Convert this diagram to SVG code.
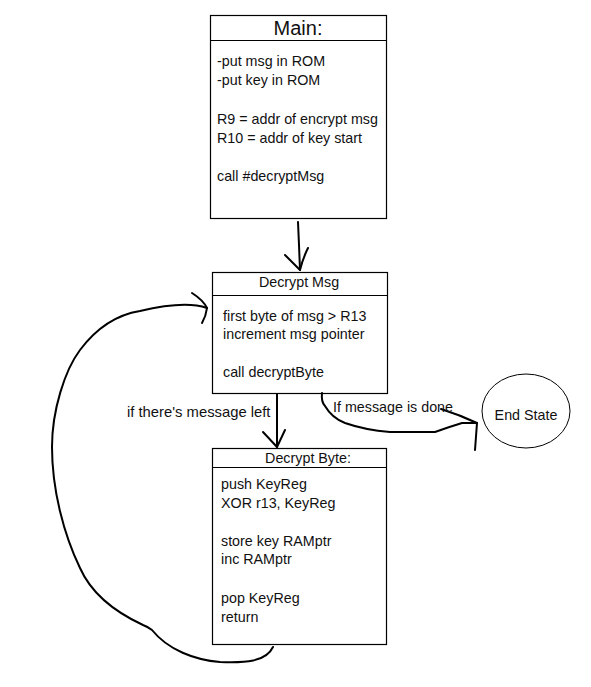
<svg xmlns="http://www.w3.org/2000/svg" width="591" height="687" viewBox="0 0 591 687">
<style>
.box{fill:#fff;stroke:#000;stroke-width:1.2}
.t{font-family:"Liberation Sans",Arial,sans-serif;font-size:14.3px;fill:#111}
.lb{font-size:14.8px}
.title{font-family:"Liberation Sans",Arial,sans-serif;font-size:20px;fill:#111}
.c{text-anchor:middle}
.ln{fill:none;stroke:#000;stroke-width:2;stroke-linecap:round;stroke-linejoin:round}
</style>
<rect width="591" height="687" fill="#fff"/>
<g id="main">
<rect class="box" x="210.5" y="15.5" width="176" height="203"/>
<line class="box" x1="210.5" y1="40.5" x2="386.5" y2="40.5"/>
<text class="title c" x="298" y="35">Main:</text>
<text class="t" x="217" y="66">-put msg in ROM</text>
<text class="t" x="217" y="85">-put key in ROM</text>
<text class="t" x="217" y="124">R9 = addr of encrypt msg</text>
<text class="t" x="217" y="143">R10 = addr of key start</text>
<text class="t" x="217" y="181">call #decryptMsg</text>
</g>
<g id="decrypt-msg">
<rect class="box" x="212.5" y="272.5" width="175" height="121"/>
<line class="box" x1="212.5" y1="295.5" x2="387.5" y2="295.5"/>
<text class="t c" x="299" y="287">Decrypt Msg</text>
<text class="t" x="223" y="321">first byte of msg &gt; R13</text>
<text class="t" x="223" y="339">increment msg pointer</text>
<text class="t" x="223" y="377">call decryptByte</text>
</g>
<g id="decrypt-byte">
<rect class="box" x="212.5" y="448.5" width="174" height="196"/>
<line class="box" x1="212.5" y1="467.5" x2="386.5" y2="467.5"/>
<text class="t c" x="308" y="463">Decrypt Byte:</text>
<text class="t" x="221" y="489">push KeyReg</text>
<text class="t" x="221" y="508">XOR r13, KeyReg</text>
<text class="t" x="221" y="546">store key RAMptr</text>
<text class="t" x="221" y="564">inc RAMptr</text>
<text class="t" x="221" y="603">pop KeyReg</text>
<text class="t" x="221" y="622">return</text>
</g>
<g id="end-state">
<ellipse cx="526" cy="411" rx="44" ry="37" fill="#fff" stroke="#000" stroke-width="1"/>
<text class="t c" x="526" y="420">End State</text>
</g>
<g id="connectors">
<path class="ln" d="M298,222 L299,245 L300,270"/>
<path class="ln" d="M285,255 Q292,262 300,270 Q303,258 308,248"/>
<path class="ln" d="M277,394 L277,447"/>
<path class="ln" d="M263,432 L277,447 L285,430"/>
<path class="ln" d="M322,393 Q321,402 325,406 Q332,418 345,423 Q365,430 390,432 L435,432 Q452,426 462,423 L477,423"/>
<path class="ln" d="M441,409 Q460,415 477,423 L475,450"/>
<path class="ln" d="M273,647 C266,662 245,663 220,662 C195,660 168,650 152,630 C148,627 146,626 143,625 C115,612 92,595 80,568 C64,535 52,490 52,447 C52,410 65,370 80,350 C95,330 115,315 140,311 C165,305 190,302 207,308"/>
<path class="ln" d="M192,293 Q203,300 207,308 Q206,316 202,323"/>
<text class="t lb" x="127" y="417">if there's message left</text>
<text class="t" x="333" y="412">If message is done</text>
</g>
</svg>
